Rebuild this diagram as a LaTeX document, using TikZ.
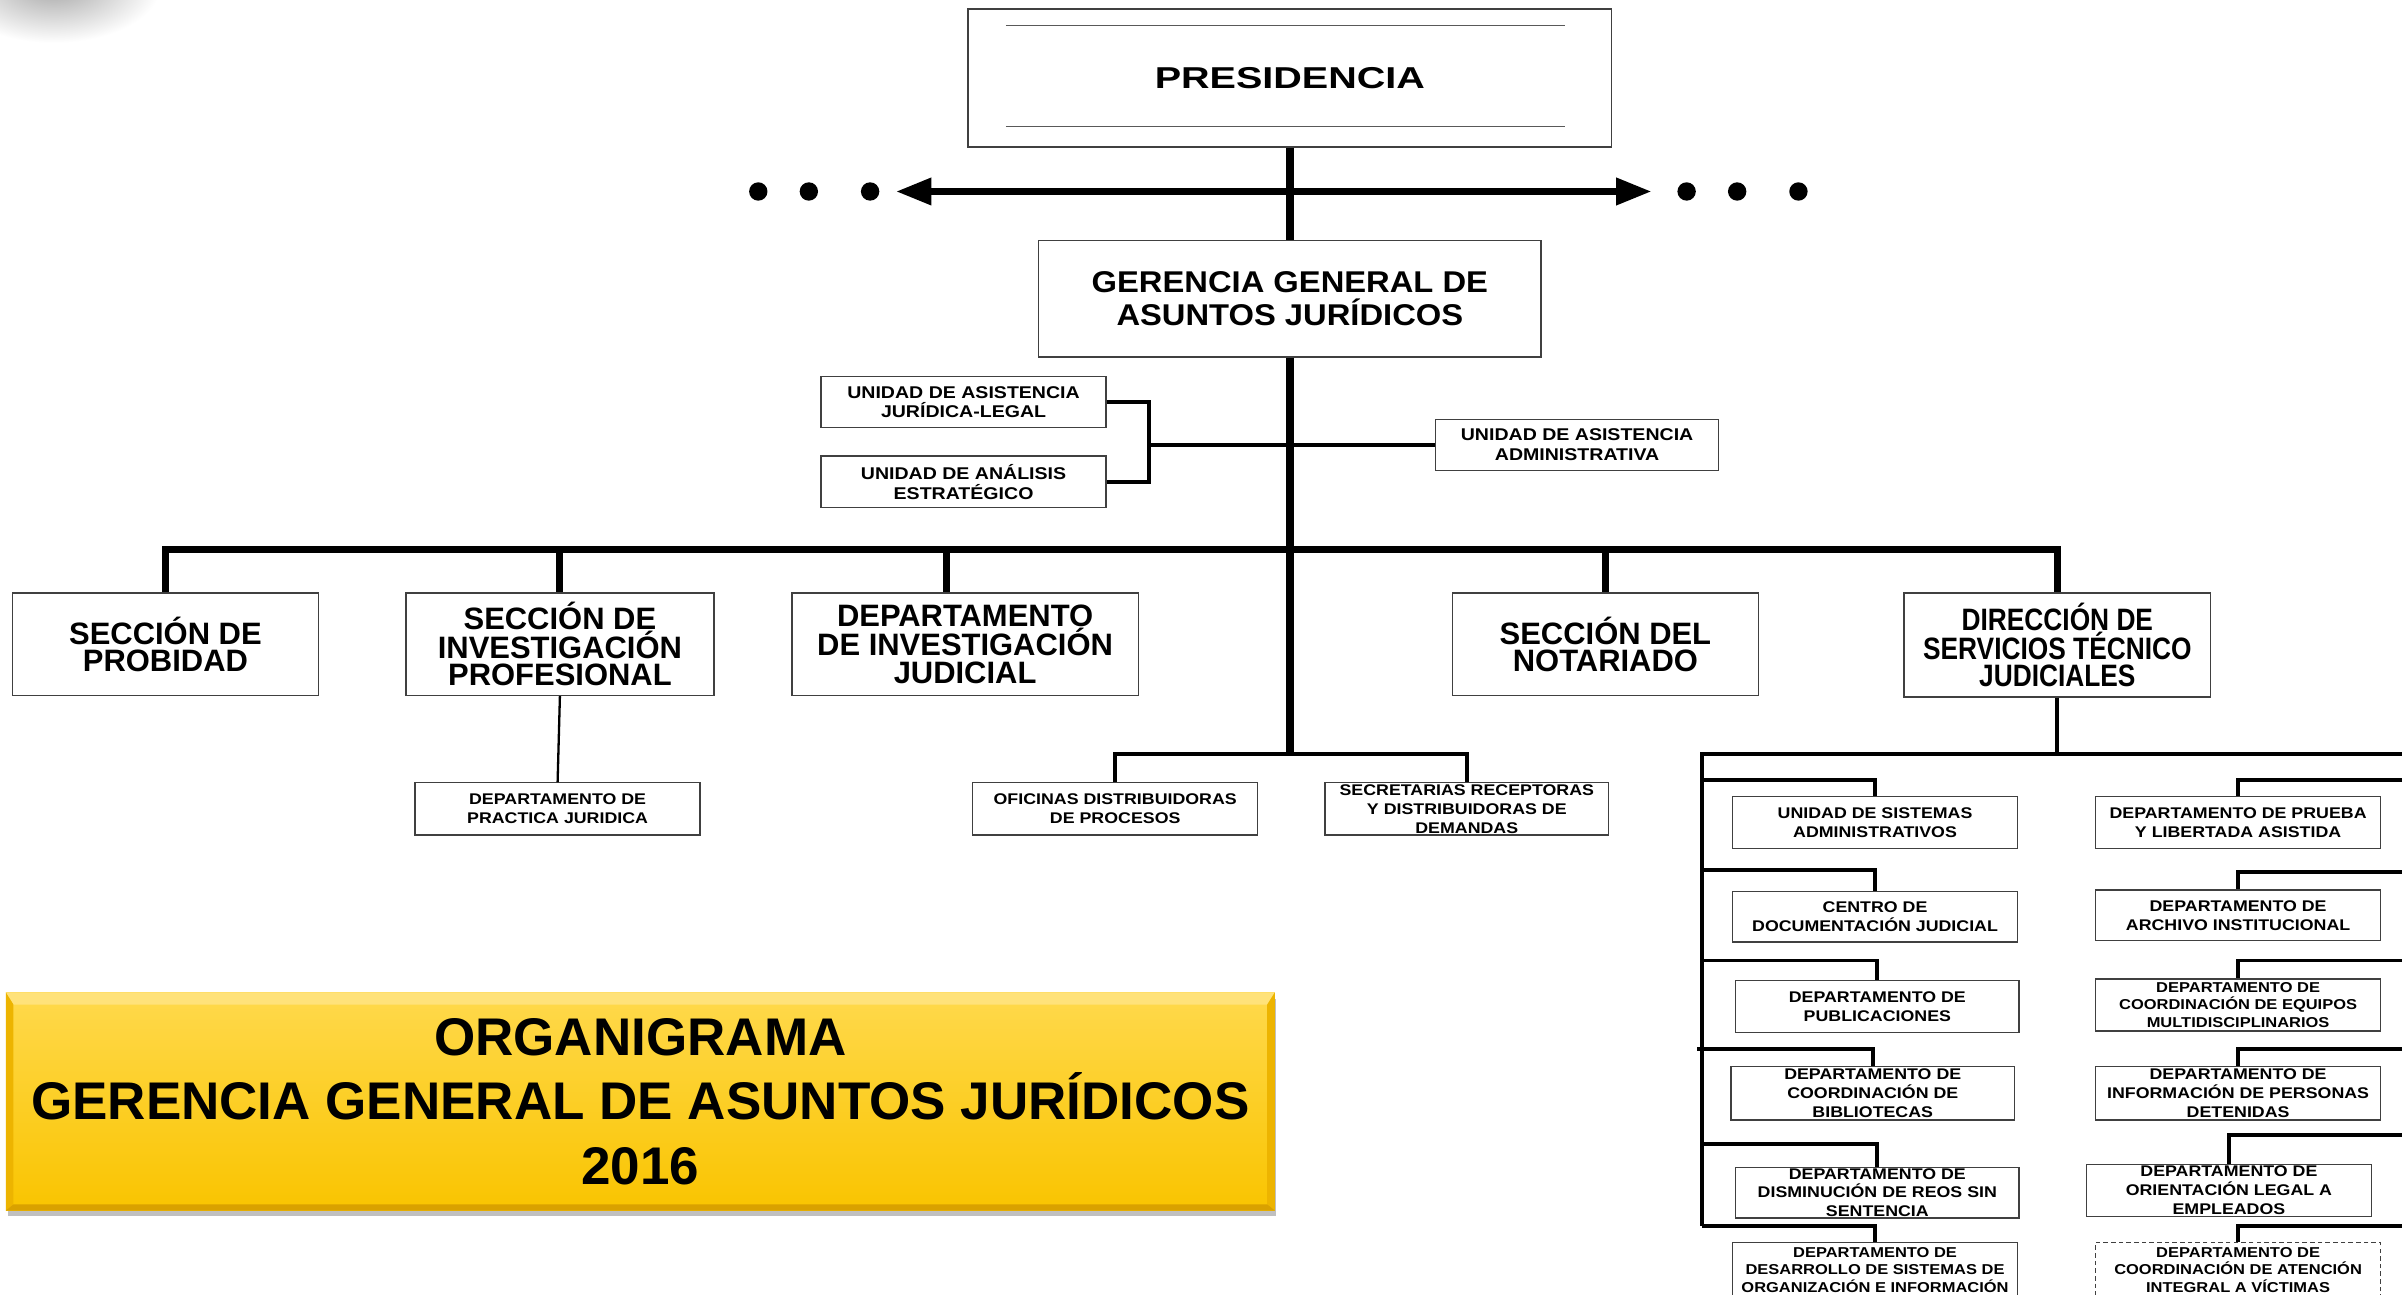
\documentclass[tikz,border=0pt]{standalone}
\usepackage{fontspec}
\setmainfont{Liberation Sans}
\newfontfamily\fsmall[FakeStretch=1.15]{Liberation Sans}
\newfontfamily\fdir[FakeStretch=0.85]{Liberation Sans}
\newfontfamily\fger[FakeStretch=1.09]{Liberation Sans}
\newfontfamily\fpres[FakeStretch=1.31]{Liberation Sans}
\usetikzlibrary{arrows.meta,shadows}
\definecolor{goldA}{HTML}{FFD94C}
\definecolor{goldB}{HTML}{F9C400}
\definecolor{bevT}{HTML}{FFE27A}
\definecolor{bevS}{HTML}{EDB400}
\definecolor{bevB}{HTML}{D9A100}
\begin{document}
\begin{tikzpicture}[x=1pt,y=-1pt,
  box/.style={rectangle,draw=black!75,line width=0.9pt,fill=white,align=center,inner sep=0pt},
  presbox/.style={box,minimum width=420pt,minimum height=90pt,font=\fpres\bfseries\fontsize{19.7}{20}\selectfont},
  gerbox/.style={box,minimum width=328pt,minimum height=76pt,font=\fger\bfseries\fontsize{19.6}{22}\selectfont},
  rowbox/.style={box,minimum width=200pt,minimum height=67pt,font=\bfseries\fontsize{20.2}{17.8}\selectfont},
  dirbox/.style={box,minimum width=200pt,minimum height=68pt,font=\fdir\bfseries\fontsize{20.2}{17.6}\selectfont},
  ubox/.style={box,minimum width=186pt,minimum height=33.5pt,font=\fsmall\bfseries\fontsize{11.1}{13}\selectfont},
  sbox/.style={box,minimum width=186pt,minimum height=33.5pt,font=\fsmall\bfseries\fontsize{10.1}{12.3}\selectfont},
  tbox/.style={box,minimum width=186pt,minimum height=34pt,font=\fsmall\bfseries\fontsize{9.35}{11.2}\selectfont},
  titlebox/.style={rectangle,minimum width=828pt,minimum height=142pt,inner sep=0pt,align=center,
    top color=goldA,bottom color=goldB,
    drop shadow={shadow xshift=1pt,shadow yshift=-4pt,opacity=0.35,fill=black!70},
    font=\bfseries\fontsize{34.6}{42}\selectfont},
  trunk/.style={line width=5.4pt,black},
  bus/.style={line width=4.6pt,black},
  arrline/.style={line width=4.4pt,black,{Triangle[length=23pt,width=17pt]}-{Triangle[length=23pt,width=17pt]}},
  br/.style={line width=2.6pt,black},
  brk/.style={line width=2.3pt,black},
  thinline/.style={line width=1.5pt,black},
  innerline/.style={line width=0.8pt,black!65},
  dot/.style={circle,fill=black,inner sep=0pt,minimum size=12pt},
]
\useasboundingbox (0,0) rectangle (1568,845);
\clip (0,0) rectangle (1568,845);
\fill[white] (0,0) rectangle (1568,845);
\shade[inner color=black!35,outer color=white] (35,-10) ellipse [x radius=70pt,y radius=38pt];

% ---------- nodes ----------
\node[presbox] (pres) at (842,51) {PRESIDENCIA};
\node[gerbox] (ger) at (842,195) {GERENCIA GENERAL DE\\ASUNTOS JURÍDICOS};

\node[ubox] (jur) at (629,262.5) {UNIDAD DE ASISTENCIA\\JURÍDICA-LEGAL};
\node[ubox] (ana) at (629,314.5) {UNIDAD DE ANÁLISIS\\ESTRATÉGICO};
\node[ubox,minimum width=185pt] (adm) at (1029.5,290.5) {UNIDAD DE ASISTENCIA\\ADMINISTRATIVA};

\node[rowbox] (prob) at (108,420.5) {SECCIÓN DE\\PROBIDAD};
\node[rowbox,minimum width=201pt] (sip) at (365.5,420.5) {SECCIÓN DE\\INVESTIGACIÓN\\PROFESIONAL};
\node[rowbox,minimum width=226pt] (dij) at (630,420.5) {DEPARTAMENTO\\DE INVESTIGACIÓN\\JUDICIAL};
\node[rowbox] (nota) at (1048,420.5) {SECCIÓN DEL\\NOTARIADO};
\node[dirbox] (dir) at (1343,421) {DIRECCIÓN DE\\SERVICIOS TÉCNICO\\JUDICIALES};

\node[sbox,minimum height=34pt] (dpj) at (364,528) {DEPARTAMENTO DE\\PRACTICA JURIDICA};
\node[sbox,minimum height=34pt] (ofi) at (728,528) {OFICINAS DISTRIBUIDORAS\\DE PROCESOS};
\node[sbox,minimum height=34pt,minimum width=185pt] (secr) at (957.5,528) {SECRETARIAS RECEPTORAS\\Y DISTRIBUIDORAS DE\\DEMANDAS};

\node[sbox,minimum height=34pt] (l1) at (1224,537) {UNIDAD DE SISTEMAS\\ADMINISTRATIVOS};
\node[sbox,minimum height=33pt] (l2) at (1224,598.5) {CENTRO DE\\DOCUMENTACIÓN JUDICIAL};
\node[sbox,minimum height=34pt,minimum width=185pt] (l3) at (1225.5,657) {DEPARTAMENTO DE\\PUBLICACIONES};
\node[sbox,minimum height=35pt,minimum width=185pt] (l4) at (1222.5,713.5) {DEPARTAMENTO DE\\COORDINACIÓN DE\\BIBLIOTECAS};
\node[sbox,minimum height=33pt,minimum width=185pt] (l5) at (1225.5,778.5) {DEPARTAMENTO DE\\DISMINUCIÓN DE REOS SIN\\SENTENCIA};
\node[tbox,minimum height=36pt] (l6) at (1224,829) {DEPARTAMENTO DE\\DESARROLLO DE SISTEMAS DE\\ORGANIZACIÓN E INFORMACIÓN};

\node[sbox,minimum height=34pt] (r1) at (1461,537) {DEPARTAMENTO DE PRUEBA\\Y LIBERTADA ASISTIDA};
\node[sbox,minimum height=33pt] (r2) at (1461,597.5) {DEPARTAMENTO DE\\ARCHIVO INSTITUCIONAL};
\node[tbox,minimum height=34pt] (r3) at (1461,656) {DEPARTAMENTO DE\\COORDINACIÓN DE EQUIPOS\\MULTIDISCIPLINARIOS};
\node[sbox,minimum height=35pt] (r4) at (1461,713.5) {DEPARTAMENTO DE\\INFORMACIÓN DE PERSONAS\\DETENIDAS};
\node[sbox,minimum height=34pt] (r5) at (1455,777) {DEPARTAMENTO DE\\ORIENTACIÓN LEGAL A\\EMPLEADOS};
\node[tbox,minimum height=36pt,dash pattern=on 3pt off 2pt] (r6) at (1461,829) {DEPARTAMENTO DE\\COORDINACIÓN DE ATENCIÓN\\INTEGRAL A VÍCTIMAS};

% title box
\node[titlebox] (ttl) at (418,719) {ORGANIGRAMA\\GERENCIA GENERAL DE ASUNTOS JURÍDICOS\\2016};
\fill[bevT] (ttl.north west) -- (ttl.north east) -- ([shift={(-5,8)}]ttl.north east) -- ([shift={(5,8)}]ttl.north west) -- cycle;
\fill[bevS] (ttl.north west) -- ([shift={(5,8)}]ttl.north west) -- ([shift={(5,-4)}]ttl.south west) -- (ttl.south west) -- cycle;
\fill[bevS] (ttl.north east) -- ([shift={(-5,8)}]ttl.north east) -- ([shift={(-5,-4)}]ttl.south east) -- (ttl.south east) -- cycle;
\fill[bevB] (ttl.south west) -- ([shift={(5,-4)}]ttl.south west) -- ([shift={(-5,-4)}]ttl.south east) -- (ttl.south east) -- cycle;

% presidencia inner lines
\draw[innerline] ([shift={(25,11)}]pres.north west) -- ([shift={(-31,11)}]pres.north east);
\draw[innerline] ([shift={(25,-14)}]pres.south west) -- ([shift={(-31,-14)}]pres.south east);

% ---------- coordinates ----------
\coordinate (al) at (585,125);
\coordinate (ar) at (1078,125);
\coordinate (bus) at (842,359);
\coordinate (b3) at (618,359);
\coordinate (bk) at (750,290.5);
\coordinate (tb) at (842,492);
\coordinate (dl) at (1111,492);
\coordinate (dr) at (1568,492);
\coordinate (lvb) at (1111,800);
\coordinate (lv1) at (1111,509);
\coordinate (lv2) at (1111,568);
\coordinate (lv3) at (1111,627);
\coordinate (lv4) at (1108,685);
\coordinate (lv5) at (1111,747);
\coordinate (lv6) at (1111,800);
\coordinate (rv1) at (1568,509);
\coordinate (rv2) at (1568,569);
\coordinate (rv3) at (1568,627);
\coordinate (rv4) at (1568,685);
\coordinate (rv5) at (1568,741);
\coordinate (rv6) at (1568,800);

% dots
\node[dot] (d1) at (495,125) {};
\node[dot] (d2) at (528,125) {};
\node[dot] (d3) at (568,125) {};
\node[dot] (d4) at (1101,125) {};
\node[dot] (d5) at (1134,125) {};
\node[dot] (d6) at (1174,125) {};

% ---------- connectors ----------
\draw[arrline] (al) -- (ar);
\draw[trunk] (pres.south) -- (ger.north);
\draw[trunk] (ger.south) -- (tb);

\draw[brk] (jur.east) -| (bk) |- (ana.east);
\draw[brk] (bk) -- (adm.west);

\draw[bus] (prob.north) -- (prob.north |- bus) -- (dir.north |- bus) -- (dir.north);
\draw[bus] (sip.north |- bus) -- (sip.north);
\draw[bus] (b3) -- (b3 |- dij.north);
\draw[bus] (nota.north |- bus) -- (nota.north);

\draw[thinline] (sip.south) -- (dpj.north);
\draw[br] (ofi.north) |- (tb) -| (secr.north);

\draw[br] (dir.south) -- (dir.south |- dl);
\draw[br] (lvb) -- (dl) -- (dr);
\draw[br] (lv1) -| (l1.north);
\draw[br] (lv2) -| (l2.north);
\draw[br] (lv3) -| (l3.north);
\draw[br] (lv4) -| (l4.north);
\draw[br] (lv5) -| (l5.north);
\draw[br] (lv6) -| (l6.north);
\draw[br] (rv1) -| (r1.north);
\draw[br] (rv2) -| (r2.north);
\draw[br] (rv3) -| (r3.north);
\draw[br] (rv4) -| (r4.north);
\draw[br] (rv5) -| (r5.north);
\draw[br] (rv6) -| (r6.north);
\end{tikzpicture}
\end{document}
